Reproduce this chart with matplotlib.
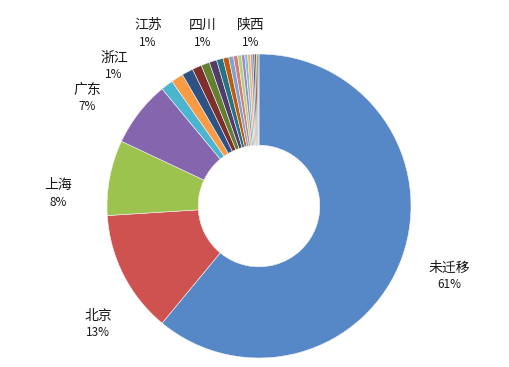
import matplotlib
matplotlib.use("Agg")
import matplotlib.pyplot as plt

plt.rcParams['font.family'] = ['Noto Sans CJK SC', 'DejaVu Sans']

# data (percent)
categories = ["未迁移", "北京", "上海", "广东", "浙江", "江苏", "四川", "", "陕西",
              "", "", "", "", "", "", "", "", "", "", "", "", "", ""]
values = [61, 13, 8, 7, 1.3, 1.3, 1.2, 1.0, 0.9, 0.8, 0.7, 0.6, 0.5, 0.45,
          0.4, 0.35, 0.3, 0.3, 0.25, 0.2, 0.2, 0.15, 0.1]
pct_labels = ["61%", "13%", "8%", "7%", "1%", "1%", "1%", "", "1%"]

colors = ["#5687C7", "#CE524F", "#9BC34E", "#8565AD", "#4BB5D0", "#F99A45",
          "#2E5283", "#7E2E2C", "#62802F", "#503D6A", "#287286", "#BF5B0C",
          "#7AA2D3", "#D67B78", "#B4D17E", "#A08ABF", "#74C3D8", "#FAAE70",
          "#A8A8A8", "#3C6396", "#9A4441", "#758F40", "#5F4A7C"]

W, H = 509, 367
fig = plt.figure(figsize=(W / 100, H / 100), dpi=100)
ax = fig.add_axes([0, 0, 1, 1])

cx, cy, R = 259, 206, 152   # pixel coords, y measured from top
wedges, _ = ax.pie(values, colors=colors[:len(values)], startangle=90,
                   counterclock=False, center=(cx, H - cy), radius=R,
                   wedgeprops=dict(width=R * 0.6, edgecolor="#f4f4f4", linewidth=0.4),
                   frame=True)
ax.set_xlim(0, W)
ax.set_ylim(0, H)
ax.set_aspect("equal")
ax.axis("off")

# label placements (pixel coords from top: name centre x, name y, percent y)
label_pos = {
    "未迁移": (449, 268, 285),
    "北京": (98, 316, 333),
    "上海": (58, 185, 203),
    "广东": (87, 90, 107),
    "浙江": (114, 58, 75),
    "江苏": (148, 25, 43),
    "四川": (203, 25, 43),
    "陕西": (251, 25, 43),
}
for name, pct in zip(categories, pct_labels):
    if name and name in label_pos:
        x, yn, yp = label_pos[name]
        ax.text(x, H - yn, name, ha="center", va="center", fontsize=10, color="#1a1a1a")
        ax.text(x, H - yp, pct, ha="center", va="center", fontsize=8.5, color="#1a1a1a")

fig.savefig("out.png", dpi=100)
